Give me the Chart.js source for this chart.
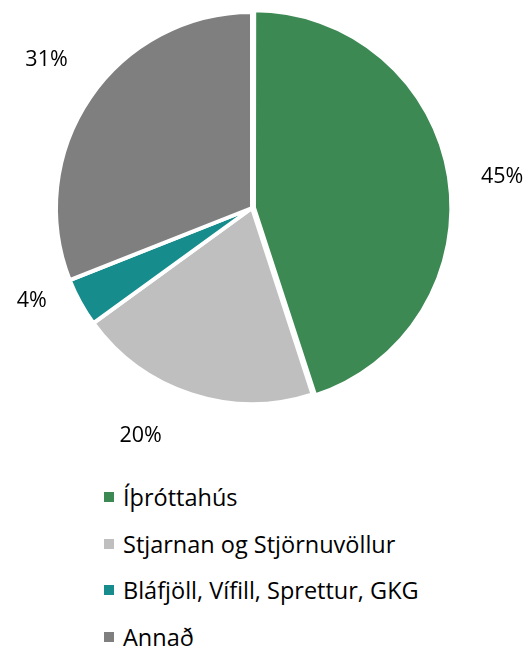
<!DOCTYPE html>
<html>
<head>
<meta charset="utf-8">
<script src="https://cdn.jsdelivr.net/npm/chart.js@4"></script>
<style>
  body { margin: 0; background: #fff; font-family: "Open Sans", sans-serif; }
  #wrap { position: relative; width: 532px; height: 649px; }
  #chartBox { position: absolute; left: 0; top: 0; width: 532px; height: 460px; }
  #legend { position: absolute; left: 104px; top: 474px; }
  .item { display: flex; align-items: center; height: 46.5px; font-size: 23.5px; color: #000; }
  .box { width: 10px; height: 10px; margin-right: 9px; }
</style>
</head>
<body>
<div id="wrap">
  <div id="chartBox"><canvas id="pie"></canvas></div>
  <div id="legend"></div>
</div>
<script>
// Data
const labels = ['Íþróttahús', 'Stjarnan og Stjörnuvöllur', 'Bláfjöll, Vífill, Sprettur, GKG', 'Annað'];
const shares = [45, 20, 4, 31];
const colors = ['#3d8954', '#bfbfbf', '#178c8c', '#7f7f7f'];

// small tweaks so labels sit like the original (degrees, px past the rim)
const labelNudge = [2, 8, 6, 1.5];
const labelGap = [56, 58, 43, 57];

// Build legend
const legend = document.getElementById('legend');
labels.forEach((name, i) => {
    legend.innerHTML += `
        <div class="item"><span class="box" style="background:${colors[i]}"></span>${name}</div>
    `;
});

// Percentage labels outside the pie
const outsideLabels = {
    id: 'outsideLabels',
    afterDatasetsDraw(chart) {
        const ctx = chart.ctx;
        const arcs = chart.getDatasetMeta(0).data;
        const total = shares.reduce((a, b) => a + b, 0);
        ctx.save();
        ctx.font = '21.5px "Open Sans"';
        ctx.fillStyle = '#000';
        ctx.textAlign = 'center';
        ctx.textBaseline = 'middle';
        arcs.forEach((arc, i) => {
            const mid = (arc.startAngle + arc.endAngle) / 2 + labelNudge[i] * Math.PI / 180;
            const d = arc.outerRadius + labelGap[i];
            const x = arc.x + Math.cos(mid) * d;
            const y = arc.y + Math.sin(mid) * d;
            ctx.fillText(Math.round(shares[i] / total * 100) + '%', x, y);
        });
        ctx.restore();
    }
};

const ctx = document.getElementById('pie').getContext('2d');
const pieChart = new Chart(ctx, {
    type: 'pie',
    data: {
        labels: labels,
        datasets: [{
            data: shares,
            backgroundColor: colors,
            borderColor: '#fff',
            borderWidth: 4,
            offset: [8, 0, 0, 0],
            hoverOffset: 0
        }]
    },
    options: {
        responsive: true,
        maintainAspectRatio: false,
        animation: false,
        layout: {
            padding: { left: 50, right: 78, top: 6, bottom: 50 }
        },
        plugins: {
            legend: { display: false },
            tooltip: { enabled: false }
        }
    },
    plugins: [outsideLabels]
});
</script>
</body>
</html>
